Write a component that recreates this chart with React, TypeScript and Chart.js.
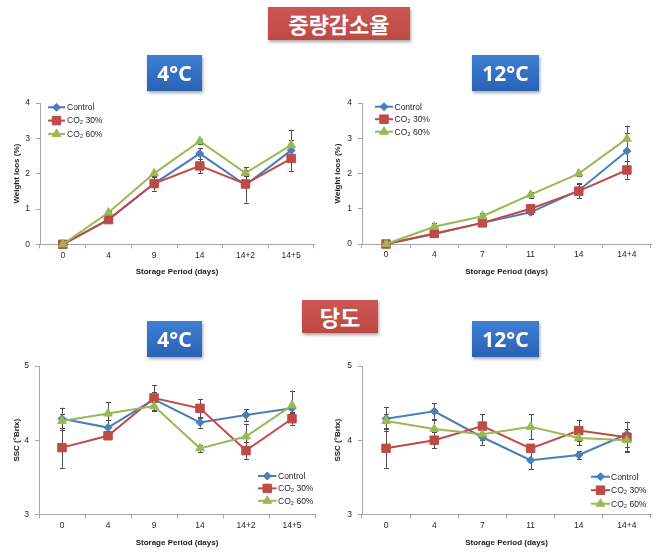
import React, { useEffect, useRef } from 'react';
import { Chart, registerables } from 'chart.js';

Chart.register(...registerables);

// ---------- data ----------
const CATS_4C = ['0', '4', '9', '14', '14+2', '14+5'];
const CATS_12C = ['0', '4', '7', '11', '14', '14+4'];
const SERIES_NAMES = ['Control', 'CO₂ 30%', 'CO₂ 60%'];

// Weight loss (%) at 4°C
const WL4_CONTROL = [0, 0.7, 1.72, 2.57, 1.68, 2.66];
const WL4_CO2_30 = [0, 0.7, 1.72, 2.22, 1.71, 2.43];
const WL4_CO2_60 = [0, 0.9, 2.01, 2.92, 2.02, 2.81];
const WL4_CONTROL_ERR = [0.02, 0.05, 0.1, 0.15, 0.5, 0.3];
const WL4_CO2_30_ERR = [0.02, 0.05, 0.2, 0.2, 0.1, 0.35];
const WL4_CO2_60_ERR = [0.02, 0.05, 0.08, 0.07, 0.08, 0.44];

// Weight loss (%) at 12°C
const WL12_CONTROL = [0, 0.28, 0.6, 0.9, 1.52, 2.64];
const WL12_CO2_30 = [0, 0.3, 0.6, 1.0, 1.5, 2.1];
const WL12_CO2_60 = [0, 0.49, 0.79, 1.4, 2.0, 2.99];
const WL12_CONTROL_ERR = [0.02, 0.05, 0.05, 0.05, 0.2, 0.5];
const WL12_CO2_30_ERR = [0.02, 0.05, 0.05, 0.05, 0.2, 0.25];
const WL12_CO2_60_ERR = [0.02, 0.1, 0.1, 0.08, 0.06, 0.37];

// SSC (°Brix) at 4°C
const SSC4_CONTROL = [4.29, 4.17, 4.55, 4.24, 4.34, 4.43];
const SSC4_CO2_30 = [3.9, 4.06, 4.57, 4.43, 3.86, 4.29];
const SSC4_CO2_60 = [4.26, 4.36, 4.46, 3.89, 4.05, 4.47];
const SSC4_CONTROL_ERR = [0.15, 0.1, 0.1, 0.07, 0.08, 0.05];
const SSC4_CO2_30_ERR = [0.27, 0.05, 0.17, 0.13, 0.12, 0.08];
const SSC4_CO2_60_ERR = [0.1, 0.15, 0.05, 0.05, 0.17, 0.2];

// SSC (°Brix) at 12°C
const SSC12_CONTROL = [4.29, 4.39, 4.04, 3.73, 3.8, 4.08];
const SSC12_CO2_30 = [3.89, 4.0, 4.19, 3.89, 4.13, 4.04];
const SSC12_CO2_60 = [4.26, 4.15, 4.08, 4.18, 4.03, 4.0];
const SSC12_CONTROL_ERR = [0.16, 0.11, 0.1, 0.12, 0.05, 0.17];
const SSC12_CO2_30_ERR = [0.26, 0.11, 0.16, 0.05, 0.14, 0.2];
const SSC12_CO2_60_ERR = [0.1, 0.12, 0.08, 0.17, 0.1, 0.15];

// ---------- styles ----------
const COLORS = ['#4a7ebb', '#be4b48', '#98b954'];
const POINT_STYLES = ['rectRot', 'rect', 'triangle'];
const POINT_RADII = [4, 6, 5];
const FONT = '"Liberation Sans", Arial, sans-serif';
const KFONT = '"Noto Sans CJK KR", "Noto Sans", sans-serif';
const LFONT = '"Noto Sans", "Open Sans", sans-serif';

function drawMarker(ctx: CanvasRenderingContext2D, style: string, x: number, y: number, r: number, color: string) {
  ctx.save();
  ctx.fillStyle = color;
  ctx.strokeStyle = color;
  ctx.lineWidth = 1;
  ctx.beginPath();
  if (style === 'rectRot') {
    ctx.moveTo(x, y - r);
    ctx.lineTo(x + r, y);
    ctx.lineTo(x, y + r);
    ctx.lineTo(x - r, y);
  } else if (style === 'rect') {
    const s = r * Math.SQRT1_2;
    ctx.rect(x - s, y - s, 2 * s, 2 * s);
  } else {
    ctx.moveTo(x, y - r);
    ctx.lineTo(x + 0.866 * r, y + 0.5 * r);
    ctx.lineTo(x - 0.866 * r, y + 0.5 * r);
  }
  ctx.closePath();
  ctx.fill();
  ctx.stroke();
  ctx.restore();
}

type LegendCfg = { x: number; y: number; gap: number; lineLen: number; textX: number };

type PanelProps = {
  left: number;
  top: number;
  width: number;
  height: number;
  area: { left: number; top: number; right: number; bottom: number };
  labels: string[];
  series: number[][];
  errors: number[][];
  yMin: number;
  yMax: number;
  yTitle: string;
  yTitleX: number;
  xTitleY: number;
  legend: LegendCfg;
};

function ChartPanel(p: PanelProps) {
  const ref = useRef<HTMLCanvasElement>(null);
  useEffect(() => {
    if (!ref.current) return;
    const a = {
      left: p.area.left - p.left,
      top: p.area.top - p.top,
      right: p.area.right - p.left,
      bottom: p.area.bottom - p.top,
    };
    const lg = {
      x: p.legend.x - p.left,
      y: p.legend.y - p.top,
      gap: p.legend.gap,
      lineLen: p.legend.lineLen,
      textX: p.legend.textX - p.left,
    };
    const titleSize = 8;
    const xTitlePad = p.top + p.height - p.xTitleY - (titleSize * 1.2) / 2;
    const yTitlePad = p.yTitleX - p.left - (titleSize * 1.2) / 2;

    const errorBars = {
      id: 'errorBars',
      beforeDatasetsDraw(chart: any) {
        const ctx = chart.ctx;
        const ys = chart.scales.y;
        ctx.save();
        ctx.strokeStyle = '#4d4d4d';
        ctx.lineWidth = 1;
        chart.data.datasets.forEach((ds: any, i: number) => {
          const meta = chart.getDatasetMeta(i);
          meta.data.forEach((pt: any, j: number) => {
            const v = ds.data[j];
            const e = ds.errors[j];
            const yt = ys.getPixelForValue(v + e);
            const yb = ys.getPixelForValue(v - e);
            const x = Math.round(pt.x) + 0.5;
            ctx.beginPath();
            ctx.moveTo(x, yt);
            ctx.lineTo(x, yb);
            ctx.moveTo(x - 2.5, Math.round(yt) + 0.5);
            ctx.lineTo(x + 2.5, Math.round(yt) + 0.5);
            ctx.moveTo(x - 2.5, Math.round(yb) + 0.5);
            ctx.lineTo(x + 2.5, Math.round(yb) + 0.5);
            ctx.stroke();
          });
        });
        ctx.restore();
      },
    };

    const customLegend = {
      id: 'customLegend',
      afterDraw(chart: any) {
        const ctx = chart.ctx;
        ctx.save();
        SERIES_NAMES.forEach((name, i) => {
          const y = lg.y + i * lg.gap;
          ctx.strokeStyle = COLORS[i];
          ctx.lineWidth = 2;
          ctx.beginPath();
          ctx.moveTo(lg.x, y);
          ctx.lineTo(lg.x + lg.lineLen, y);
          ctx.stroke();
          drawMarker(ctx, POINT_STYLES[i], lg.x + lg.lineLen / 2, y, POINT_RADII[i], COLORS[i]);
          ctx.fillStyle = '#262626';
          ctx.font = `8.5px ${FONT}`;
          ctx.textAlign = 'left';
          ctx.textBaseline = 'middle';
          ctx.fillText(name, lg.textX, y + 0.5);
        });
        ctx.restore();
      },
    };

    const chart = new Chart(ref.current, {
      type: 'line',
      data: {
        labels: p.labels,
        datasets: p.series.map((d, i) => ({
          label: SERIES_NAMES[i],
          data: d,
          errors: p.errors[i],
          borderColor: COLORS[i],
          backgroundColor: COLORS[i],
          borderWidth: 2,
          pointStyle: POINT_STYLES[i],
          pointRadius: POINT_RADII[i],
          pointBorderColor: COLORS[i],
          pointBackgroundColor: COLORS[i],
          pointBorderWidth: 1,
          tension: 0,
          clip: false,
          order: 2 - i,
        })) as any,
      },
      options: {
        animation: false,
        responsive: false,
        maintainAspectRatio: false,
        events: [],
        layout: { padding: { left: 0, top: a.top, right: p.width - a.right, bottom: 0 } },
        plugins: { legend: { display: false }, tooltip: { enabled: false } },
        scales: {
          x: {
            type: 'category',
            offset: true,
            grid: {
              display: true,
              offset: true,
              drawOnChartArea: false,
              drawTicks: true,
              tickLength: 4,
              color: '#a6a6a6',
            },
            border: { display: true, color: '#a6a6a6', width: 1 },
            ticks: { font: { family: FONT, size: 8.5 }, color: '#262626', padding: 2, maxRotation: 0, autoSkip: false },
            title: {
              display: true,
              text: 'Storage Period (days)',
              font: { family: FONT, size: titleSize, weight: 'bold' },
              color: '#1a1a1a',
              padding: { top: 0, bottom: xTitlePad },
            },
            afterFit: (s: any) => {
              s.height = p.height - a.bottom;
            },
          },
          y: {
            min: p.yMin,
            max: p.yMax,
            ticks: { stepSize: 1, font: { family: FONT, size: 8.5 }, color: '#262626', padding: 6 },
            grid: { drawOnChartArea: false, drawTicks: true, tickLength: 4, color: '#a6a6a6' },
            border: { display: true, color: '#a6a6a6', width: 1 },
            title: {
              display: true,
              text: p.yTitle,
              font: { family: FONT, size: titleSize, weight: 'bold' },
              color: '#1a1a1a',
              padding: { top: yTitlePad, bottom: 0 },
            },
            afterFit: (s: any) => {
              s.width = a.left;
            },
          },
        },
      } as any,
      plugins: [errorBars, customLegend],
    });
    return () => chart.destroy();
  }, []);
  return (
    <canvas
      ref={ref}
      width={p.width}
      height={p.height}
      style={{ position: 'absolute', left: p.left, top: p.top, width: p.width, height: p.height }}
    />
  );
}

function Badge(props: {
  x: number;
  y: number;
  w: number;
  h: number;
  text: string;
  kind: 'red' | 'blue';
  size: number;
  family: string;
}) {
  const bg =
    props.kind === 'red'
      ? 'linear-gradient(#cc5652, #bd4945)'
      : 'linear-gradient(#3d80d3, #2a62b4)';
  return (
    <div
      style={{
        position: 'absolute',
        left: props.x,
        top: props.y,
        width: props.w,
        height: props.h,
        background: bg,
        color: '#ffffff',
        fontFamily: props.family,
        fontWeight: 700,
        fontSize: props.size,
        lineHeight: `${props.h}px`,
        textAlign: 'center',
        boxShadow: '1px 2px 3px rgba(0,0,0,0.35)',
        zIndex: 2,
        letterSpacing: 0,
      }}
    >
      {props.text}
    </div>
  );
}

export default function App() {
  return (
    <div style={{ position: 'absolute', left: 0, top: 0, width: 658, height: 560, background: '#ffffff', overflow: 'hidden' }}>
      <Badge x={268} y={7} w={142} h={33} text="중량감소율" kind="red" size={22} family={KFONT} />
      <Badge x={147} y={55} w={55} h={36} text="4°C" kind="blue" size={21} family={LFONT} />
      <Badge x={472} y={55} w={67} h={36} text="12°C" kind="blue" size={21} family={LFONT} />
      <Badge x={302} y={300} w={76} h={33} text="당도" kind="red" size={22} family={KFONT} />
      <Badge x={147} y={321} w={55} h={36} text="4°C" kind="blue" size={21} family={LFONT} />
      <Badge x={472} y={321} w={67} h={36} text="12°C" kind="blue" size={21} family={LFONT} />

      <ChartPanel
        left={0}
        top={92}
        width={330}
        height={190}
        area={{ left: 40, top: 101.7, right: 314, bottom: 244.3 }}
        labels={CATS_4C}
        series={[WL4_CONTROL, WL4_CO2_30, WL4_CO2_60]}
        errors={[WL4_CONTROL_ERR, WL4_CO2_30_ERR, WL4_CO2_60_ERR]}
        yMin={0}
        yMax={4}
        yTitle="Weight loos (%)"
        yTitleX={16.7}
        xTitleY={272}
        legend={{ x: 48, y: 107.3, gap: 13.3, lineLen: 17, textX: 67 }}
      />
      <ChartPanel
        left={330}
        top={92}
        width={328}
        height={190}
        area={{ left: 362, top: 101.7, right: 652, bottom: 244 }}
        labels={CATS_12C}
        series={[WL12_CONTROL, WL12_CO2_30, WL12_CO2_60]}
        errors={[WL12_CONTROL_ERR, WL12_CO2_30_ERR, WL12_CO2_60_ERR]}
        yMin={0}
        yMax={4}
        yTitle="Weight loos (%)"
        yTitleX={337.3}
        xTitleY={272}
        legend={{ x: 375, y: 106.7, gap: 12.5, lineLen: 18, textX: 394.5 }}
      />
      <ChartPanel
        left={0}
        top={355}
        width={330}
        height={205}
        area={{ left: 39, top: 365, right: 315, bottom: 514.3 }}
        labels={CATS_4C}
        series={[SSC4_CONTROL, SSC4_CO2_30, SSC4_CO2_60]}
        errors={[SSC4_CONTROL_ERR, SSC4_CO2_30_ERR, SSC4_CO2_60_ERR]}
        yMin={3}
        yMax={5}
        yTitle="SSC (°Brix)"
        yTitleX={16.7}
        xTitleY={542.7}
        legend={{ x: 258, y: 476, gap: 12.4, lineLen: 18.5, textX: 278 }}
      />
      <ChartPanel
        left={330}
        top={355}
        width={328}
        height={205}
        area={{ left: 362, top: 365, right: 652, bottom: 514.3 }}
        labels={CATS_12C}
        series={[SSC12_CONTROL, SSC12_CO2_30, SSC12_CO2_60]}
        errors={[SSC12_CONTROL_ERR, SSC12_CO2_30_ERR, SSC12_CO2_60_ERR]}
        yMin={3}
        yMax={5}
        yTitle="SSC (°Brix)"
        yTitleX={337.3}
        xTitleY={542.7}
        legend={{ x: 591, y: 476.7, gap: 13.5, lineLen: 19, textX: 611 }}
      />
    </div>
  );
}
